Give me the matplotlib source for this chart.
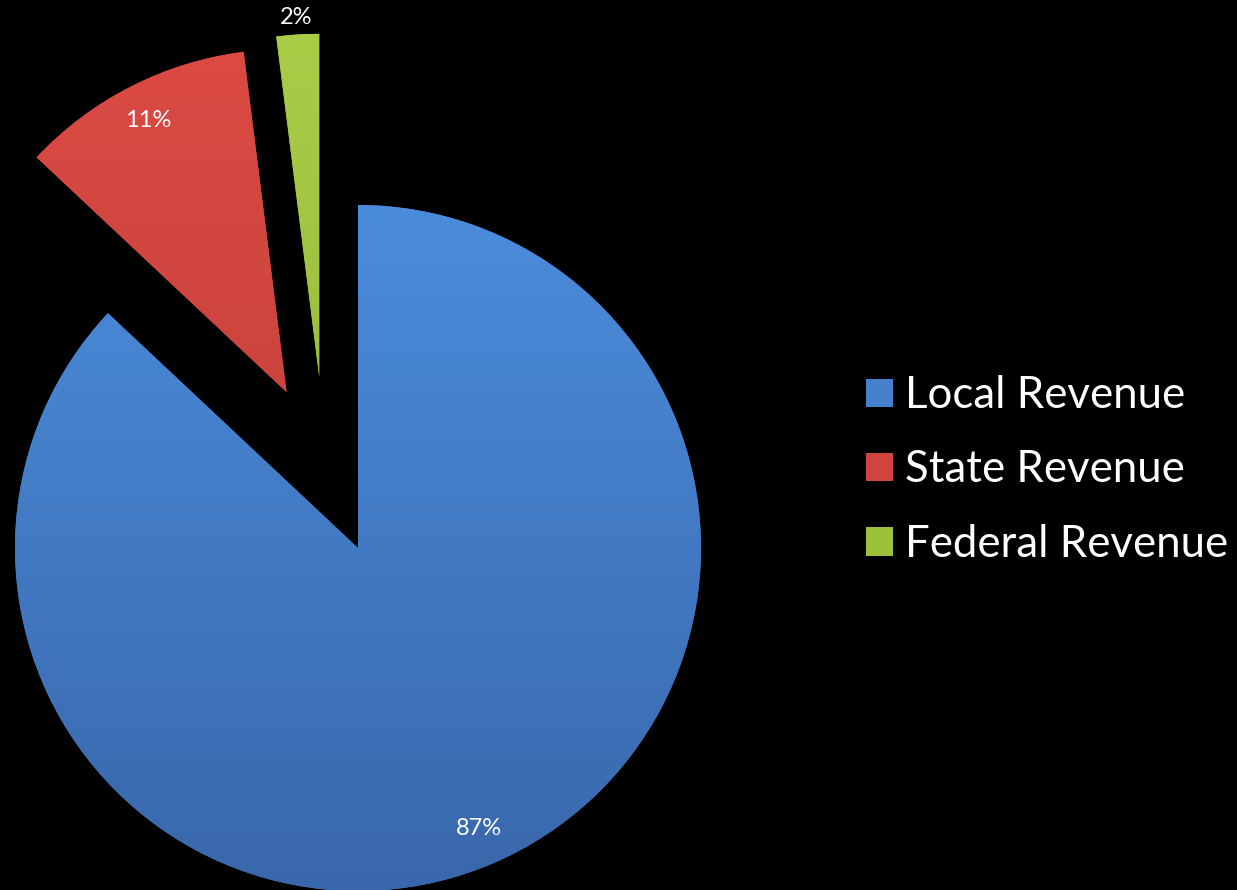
import numpy as np
import matplotlib.pyplot as plt
from matplotlib.colors import to_rgb

labels = ['Local Revenue', 'State Revenue', 'Federal Revenue']
shares = [87, 11, 2]
explode = [0, 0.51, 0.5]

flat_colors = ['#4480cc', '#cf443f', '#9cc23c']
top_colors = ['#4b8cdb', '#db4a43', '#aacd48']
bottom_colors = ['#3967ab', '#bd3e39', '#8db334']

W, H = 1237, 890
R = 343            # pie radius in pixels
cx, cy = 358, 342  # pie centre in pixels from bottom-left

fig = plt.figure(figsize=(W / 100, H / 100), dpi=100, facecolor='black')
ax = fig.add_axes([0, 0, 1, 1])
ax.set_facecolor('black')

wedges, texts, autotexts = ax.pie(
    shares, explode=explode, colors=flat_colors, startangle=90,
    counterclock=False, autopct='%1.0f%%', pctdistance=0.89,
    textprops=dict(color='white', fontsize=17, family='Lato'))

# nudge the exploded slices sideways so the gaps look even
for i, dx in [(1, 8), (2, -28)]:
    w = wedges[i]
    w.set_center((w.center[0] + dx / R, w.center[1]))
    tx, ty = autotexts[i].get_position()
    autotexts[i].set_position((tx + dx / R, ty))

# vertical shading inside each slice
for w, c0, c1 in zip(wedges, top_colors, bottom_colors):
    x0, y0 = w.center
    r = w.r
    t = np.linspace(0, 1, 256)[:, None]
    grad = (1 - t) * np.array(to_rgb(c0)) + t * np.array(to_rgb(c1))
    img = ax.imshow(grad[:, None, :].repeat(2, axis=1),
                    extent=[x0 - r, x0 + r, y0 - r, y0 + r],
                    origin='upper', aspect='auto', zorder=w.get_zorder() + 0.1)
    img.set_clip_path(w)

# small slice gets its label outside the crust
g = wedges[2]
mid = np.deg2rad((g.theta1 + g.theta2) / 2)
autotexts[2].set_position((g.center[0] + 1.05 * g.r * np.cos(mid),
                           g.center[1] + 1.05 * g.r * np.sin(mid)))
for t in autotexts:
    t.set_zorder(5)

ax.set_xlim(-cx / R, (W - cx) / R)
ax.set_ylim(-cy / R, (H - cy) / R)
ax.set_aspect('auto')
ax.axis('off')

leg = ax.legend(wedges, labels, loc='center left',
                bbox_to_anchor=(866 / W, 1 - 470 / H),
                bbox_transform=fig.transFigure, frameon=False,
                prop=dict(family='Lato', size=31.5), labelcolor='white',
                handlelength=0.62, handleheight=0.62, handletextpad=0.27,
                labelspacing=0.76, borderpad=0, borderaxespad=0)

plt.savefig('out.png', dpi=100, facecolor='black')
